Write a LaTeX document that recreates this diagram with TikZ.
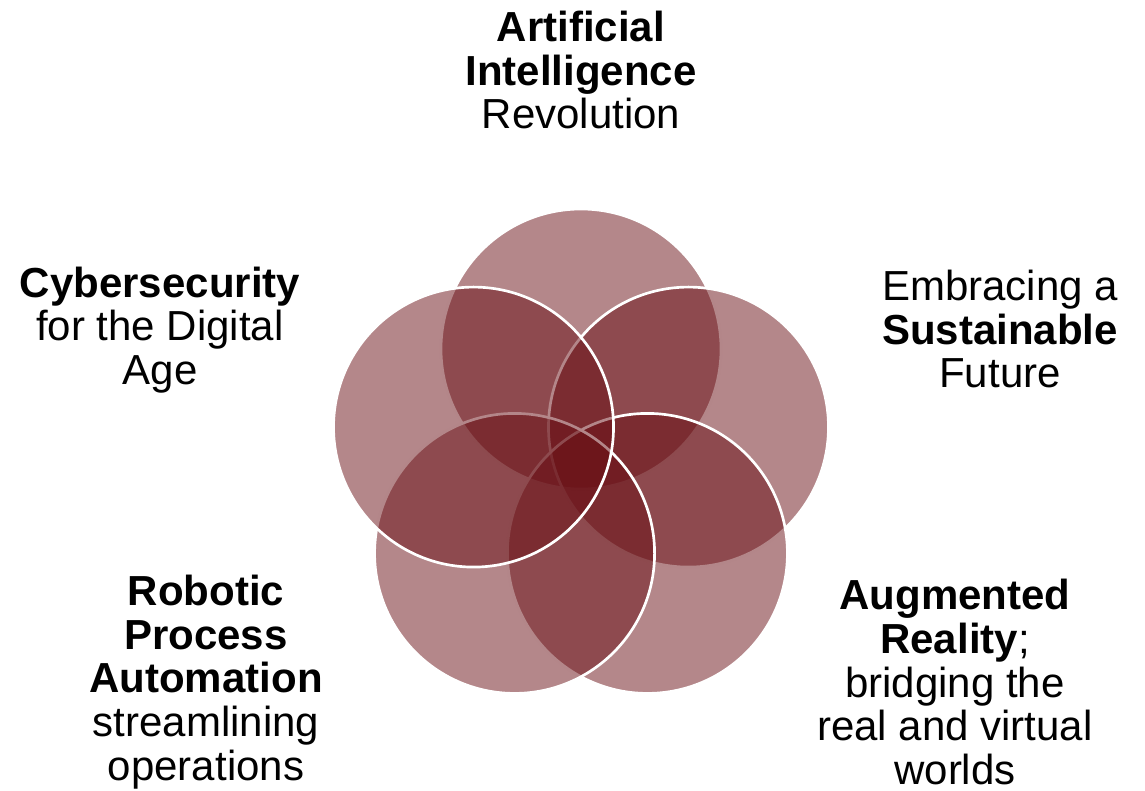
\documentclass[tikz,border=0pt]{standalone}
\usepackage{fontspec}
\setmainfont{Liberation Sans}
\definecolor{petal}{RGB}{105,15,21}
\begin{document}
\begin{tikzpicture}[x=0.75pt,y=-0.75pt,
  petalcircle/.style={fill=petal,fill opacity=0.5,draw=white,draw opacity=1,line width=2pt},
  caption/.style={align=center,inner sep=0pt,font=\fontsize{31.5pt}{32.8pt}\selectfont}]
  \useasboundingbox (0,0) rectangle (1145,791);
  % five overlapping circles on a pentagon
  \foreach \i/\ang in {1/90,2/18,3/-54,4/-126,5/162}{
    \path[petalcircle] ({581+113*cos(\ang)},{462-113*sin(\ang)}) circle[radius=140];
  }
  % labels
  \node[caption] (ai) at (581,70) {\textbf{Artificial}\\\textbf{Intelligence}\\Revolution};
  \node[caption] (sus) at (1000,329) {Embracing a\\\textbf{Sustainable}\\Future};
  \node[caption] (ar) at (955,682) {\textbf{Augmented}\\\textbf{Reality};\\bridging the\\real and virtual\\worlds};
  \node[caption] (rpa) at (206,682) {\textbf{Robotic}\\\textbf{Process}\\\textbf{Automation}\\streamlining\\operations};
  \node[caption] (cyb) at (160,330) {\textbf{Cybersecurity}\\for the Digital\\Age};
\end{tikzpicture}
\end{document}
